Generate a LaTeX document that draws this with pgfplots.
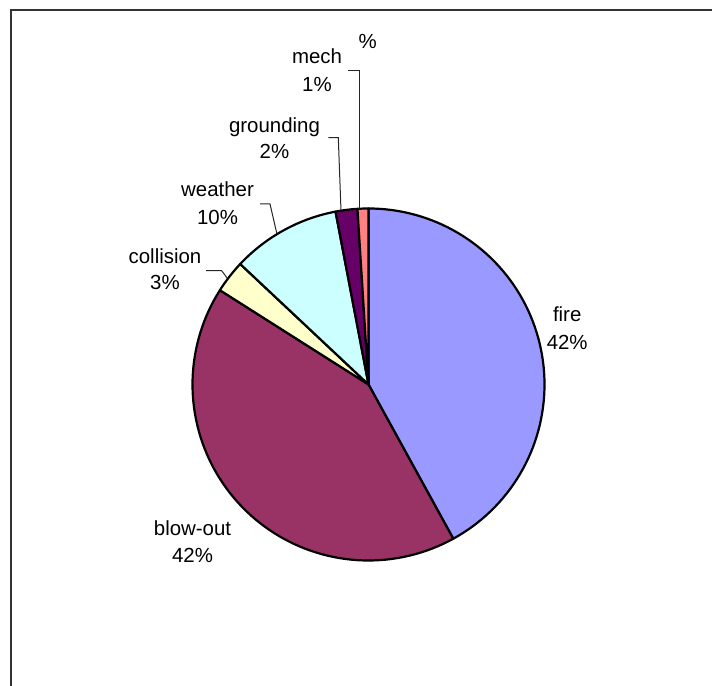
\documentclass[border=0pt]{standalone}
\usepackage{pgfplots}
\usepackage{pgfplotstable}
\pgfplotsset{compat=1.18}
\usepackage{fontspec}
\setmainfont{Liberation Sans}

\definecolor{cFire}{HTML}{9999FF}
\definecolor{cBlow}{HTML}{993366}
\definecolor{cColl}{HTML}{FFFFCC}
\definecolor{cWeath}{HTML}{CCFFFF}
\definecolor{cGround}{HTML}{660066}
\definecolor{cMech}{HTML}{FF8080}

\tikzset{lbl/.style={font=\fontsize{20.5}{24}\selectfont, text=black, inner sep=0pt, anchor=base}}

% share of each cause (percent), clockwise from 12 o'clock
\pgfplotstableread{
name      pct  col
fire      42   cFire
blow-out  42   cBlow
collision 3    cColl
weather   10   cWeath
grounding 2    cGround
mech      1    cMech
}\piedata

\begin{document}
\begin{tikzpicture}
\useasboundingbox (0,0) rectangle (712bp,686bp);
\begin{axis}[
  hide axis, scale only axis,
  width=712bp, height=686bp,
  xmin=0, xmax=712, ymin=0, ymax=686,
]
% frame
\addplot[black!80, line width=2bp, mark=none] coordinates {(11,-20) (11,676) (730,676)};

% pie slices
\def\cx{368.5}\def\cy{301.5}\def\R{176}
\gdef\cum{0}
\pgfplotsinvokeforeach{0,...,5}{
  \pgfplotstablegetelem{#1}{pct}\of\piedata \let\p\pgfplotsretval
  \pgfplotstablegetelem{#1}{col}\of\piedata \let\c\pgfplotsretval
  \pgfmathsetmacro\a{\cum*3.6}
  \pgfmathsetmacro\b{(\cum+\p)*3.6}
  \edef\doslice{\noexpand\addplot[fill=\c, draw=black, line width=2.2bp,
      line join=round, mark=none, domain=\a:\b, samples=80]
      ({\cx+\R*sin(x)},{\cy+\R*cos(x)}) -- (axis cs:\cx,\cy) -- cycle;}
  \doslice
  \pgfmathsetmacro\tmp{\cum+\p}\xdef\cum{\tmp}
}

% leader lines
\addplot[black!85, line width=1bp, mark=none] coordinates {(359.3,477) (359.3,615) (347.7,615)};
\addplot[black!85, line width=1bp, mark=none] coordinates {(341,475) (338.3,548.3) (328.3,548.3)};
\addplot[black!85, line width=1bp, mark=none] coordinates {(276.7,453) (270,482) (260,482)};
\addplot[black!85, line width=1bp, mark=none] coordinates {(227.3,407.7) (221.7,415.3) (206,415.3)};

% labels
\node[lbl] at (axis cs:367.7,637.7) {\%};
\node[lbl] at (axis cs:317,622) {mech};
\node[lbl] at (axis cs:317,594.3) {1\%};
\node[lbl] at (axis cs:274.5,553.7) {grounding};
\node[lbl] at (axis cs:274.5,527.7) {2\%};
\node[lbl] at (axis cs:217.5,489.3) {weather};
\node[lbl] at (axis cs:217.5,461) {10\%};
\node[lbl] at (axis cs:165,422.7) {collision};
\node[lbl] at (axis cs:165,396) {3\%};
\node[lbl] at (axis cs:567.2,364.3) {fire};
\node[lbl] at (axis cs:567.2,336) {42\%};
\node[lbl] at (axis cs:192.5,150.3) {blow-out};
\node[lbl] at (axis cs:192.5,123.3) {42\%};
\end{axis}
\end{tikzpicture}
\end{document}
